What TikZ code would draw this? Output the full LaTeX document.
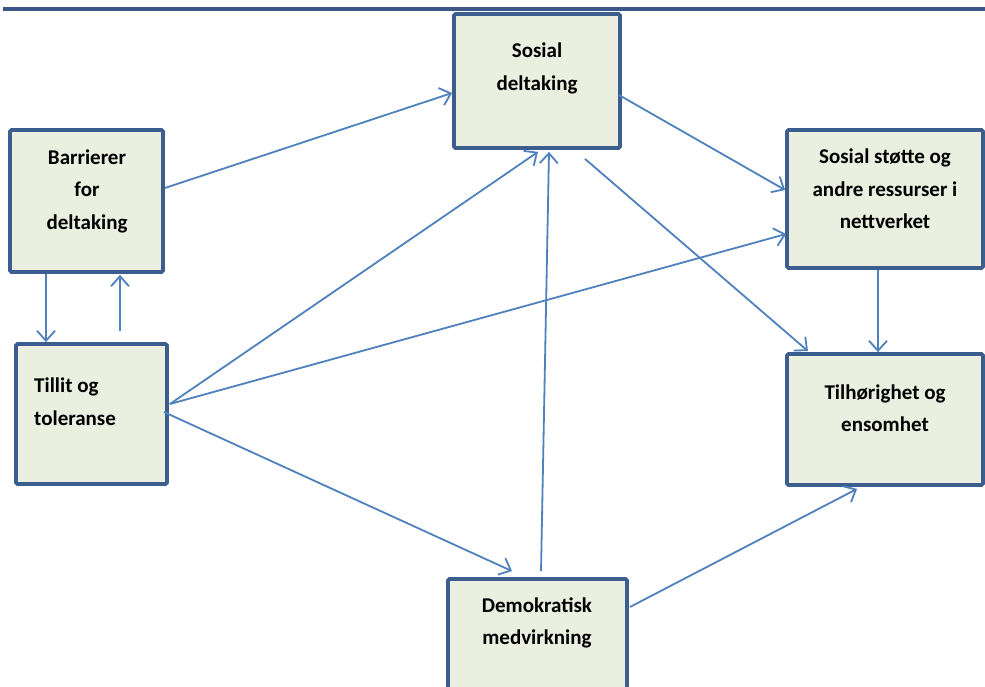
\documentclass[tikz,border=0pt]{standalone}
\usepackage{fontspec}
\setmainfont{Carlito}
\usetikzlibrary{arrows.meta,calc}
\definecolor{boxfill}{RGB}{235,239,224}
\definecolor{boxline}{RGB}{60,94,142}
\definecolor{arrcol}{RGB}{79,129,189}
\definecolor{rulecol}{RGB}{60,86,136}
\tikzset{
  boxnode/.style={draw=boxline, fill=boxfill, line width=3.8pt, rounded corners=1.5pt, inner sep=0pt},
  txt/.style={font=\fontsize{21}{32.5}\selectfont\bfseries, align=center, inner sep=0pt},
  arr/.style={draw=arrcol, line width=1.8pt, -{Straight Barb[length=10pt,width=18pt,line width=1.8pt]}},
}
\begin{document}
\begin{tikzpicture}[x=1pt,y=-1pt]
\useasboundingbox (0,0) rectangle (985,687);
\clip (0,0) rectangle (985,687);
\fill[white] (0,0) rectangle (985,687);
% header rule
\draw[rulecol, line width=4pt] (3,9.5) -- (985,9.5);
% boxes
\node[boxnode, minimum width=153pt, minimum height=142pt] (bar) at (86.5,201) {};
\node[boxnode, minimum width=166pt, minimum height=134pt] (sd) at (537,81) {};
\node[boxnode, minimum width=196pt, minimum height=138pt] (ss) at (885,199) {};
\node[boxnode, minimum width=196pt, minimum height=131pt] (til) at (885,419.5) {};
\node[boxnode, minimum width=179pt, minimum height=121pt] (dem) at (537.5,639.5) {};
\node[boxnode, minimum width=151pt, minimum height=140pt] (tol) at (91.5,414) {};
% texts
\node[txt] (barT) at (87,191) {Barrierer\\for\\deltaking};
\node[txt] (sdT) at (537,68.5) {Sosial\\deltaking};
\node[txt] (ssT) at (885,189) {Sosial støtte og\\andre ressurser i\\nettverket};
\node[txt] (tilT) at (885,408) {Tilhørighet og\\ensomhet};
\node[txt] (demT) at (537,623) {Demokratisk\\medvirkning};
\node[txt, align=left, anchor=west] (tolT) at (34,401.5) {Tillit og\\toleranse};
% connectors
\draw[arr] ($(bar.east)+(0,-13)$) -- ($(sd.west)+(0,12)$);
\draw[arr] ($(bar.south)+(-40.5,0)$) -- ($(tol.north)+(-45.5,0)$);
\draw[arr] ($(tol.north)+(28.5,-11)$) -- ($(bar.south)+(33.5,1)$);
\draw[arr] ($(tol.east)+(1,-10)$) -- ($(sd.south)+(1,2)$);
\draw[arr] ($(tol.east)+(1,-10)$) -- ($(ss.west)+(1,35)$);
\draw[arr] ($(tol.east)+(-5,-2)$) -- ($(dem.north)+(-25.5,-6)$);
\draw[arr] ($(dem.north)+(3.5,-6)$) -- ($(sd.south)+(12,2)$);
\draw[arr] ($(sd.east)+(-3,14)$) -- ($(ss.west)+(0,-9)$);
\draw[arr] ($(sd.south)+(48,9)$) -- ($(til.north)+(-77,-1)$);
\draw[arr] ($(ss.south)+(-7,0)$) -- ($(til.north)+(-7,0)$);
\draw[arr] ($(dem.east)+(1,-32.5)$) -- ($(til.south)+(-28,2)$);
\end{tikzpicture}
\end{document}
